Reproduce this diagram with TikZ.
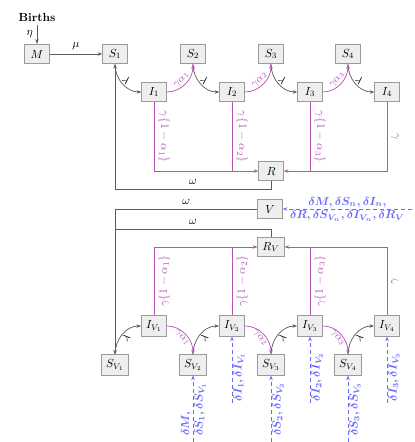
\documentclass[tikz,border=0pt]{standalone}
\usepackage{amsmath}
\usepackage{amssymb}
\usepackage{tikz}
\usetikzlibrary{arrows.meta, positioning, calc}
\definecolor{sirGray}{HTML}{5A5A5A}
\definecolor{sirPurple}{HTML}{B552B5}
\definecolor{sirBlue}{HTML}{6A6AFF}
\definecolor{sirBox}{HTML}{EEEEEE}
\definecolor{sirEdge}{HTML}{9A9A9A}

\begin{document}
\begin{tikzpicture}[
  x=0.03cm, y=-0.03cm,
  comp/.style={
    rectangle, draw=sirEdge, fill=sirBox,
    minimum width=0.74cm, minimum height=0.58cm,
    inner xsep=4pt, inner ysep=4pt,
    line width=0.6pt,
  },
  arrow/.style={-{Stealth[length=4pt]}, line width=0.6pt, color=sirGray},
  wline/.style={line width=0.6pt, color=sirGray},
  flow/.style={-{Stealth[length=4pt]}, line width=0.6pt, color=sirPurple},
  pline/.style={line width=0.6pt, color=sirPurple},
  loss/.style={-{Stealth[length=4pt]}, dashed, line width=0.6pt, color=sirBlue},
  lbl/.style={font=\boldmath, text=sirBlue, inner sep=1pt},
  rate/.style={font=\small, inner sep=1pt},
]
\useasboundingbox (0,0) rectangle (414,442);

% Unvaccinated compartments
\node[font=\bfseries] (births) at (37,17) {Births};
\node[comp] (M) at (37,54) {$M$};
\node[comp] (S1) at (115,54) {$S_1$};
\node[comp] (S2) at (193,54) {$S_2$};
\node[comp] (S3) at (271,54) {$S_3$};
\node[comp] (S4) at (348,54) {$S_4$};
\node[comp] (I1) at (154,92) {$I_1$};
\node[comp] (I2) at (232,92) {$I_2$};
\node[comp] (I3) at (310,92) {$I_3$};
\node[comp] (I4) at (387,92) {$I_4$};
\node[comp] (R) at (271,171) {$R$};

% Vaccinated compartments
\node[comp] (V) at (270,209) {$V$};
\node[comp] (RV) at (271,247) {$R_V$};
\node[comp] (IV1) at (154,326) {$I_{V_1}$};
\node[comp] (IV2) at (232,326) {$I_{V_2}$};
\node[comp] (IV3) at (310,326) {$I_{V_3}$};
\node[comp] (IV4) at (387,326) {$I_{V_4}$};
\node[comp] (SV1) at (115,365) {$S_{V_1}$};
\node[comp] (SV2) at (193,365) {$S_{V_2}$};
\node[comp] (SV3) at (271,365) {$S_{V_3}$};
\node[comp] (SV4) at (348,365) {$S_{V_4}$};

% Births and maternal immunity
\draw[arrow] (births) -- node[left, text=black] {$\eta$} (M);
\draw[arrow] (M) -- node[above, text=black] {$\mu$} (S1);

% Infection -- unvaccinated
\draw[arrow] (S1.south) to[out=-90, in=180] node[rate, sloped, above, text=black] {$\lambda$} (I1.west);
\draw[arrow] (S2.south) to[out=-90, in=180] node[rate, sloped, above, text=black] {$\lambda$} (I2.west);
\draw[arrow] (S3.south) to[out=-90, in=180] node[rate, sloped, above, text=black] {$\lambda$} (I3.west);
\draw[arrow] (S4.south) to[out=-90, in=180] node[rate, sloped, above, text=black] {$\lambda$} (I4.west);
\draw[flow] (I1.east) to[out=0, in=-90] node[rate, sloped, above] {$\gamma\alpha_1$} (S2.south);
\draw[flow] (I2.east) to[out=0, in=-90] node[rate, sloped, above] {$\gamma\alpha_2$} (S3.south);
\draw[flow] (I3.east) to[out=0, in=-90] node[rate, sloped, above] {$\gamma\alpha_3$} (S4.south);

% Recovery -- unvaccinated
\draw[flow] (I1.south) |- node[pos=0.25, rotate=-90, anchor=south] {$\gamma\{1-\alpha_1\}$} (R.west);
\draw[pline] (I2.south) -- node[rotate=-90, anchor=south] {$\gamma\{1-\alpha_2\}$} (I2.south |- R.west);
\draw[pline] (I3.south) -- node[rotate=-90, anchor=south] {$\gamma\{1-\alpha_3\}$} (I3.south |- R.east);
\draw[flow] (I4.south) |- node[pos=0.25, rotate=-90, anchor=south] {$\gamma$} (R.east);

% Waning immunity
\coordinate (wR) at (115,189);
\coordinate (wRV) at (115,229);
\draw[arrow] (R.south) |- node[pos=0.75, above, text=black] {$\omega$} (wR) -- (S1.south);
\draw[arrow] (V.west) -| node[pos=0.25, above, text=black] {$\omega$} (SV1.north);
\draw[wline] (RV.north) |- node[pos=0.75, above, text=black] {$\omega$} (wRV);

% Infection -- vaccinated
\draw[arrow] (SV1.north) to[out=90, in=180] node[rate, sloped, below, text=black] {$\lambda$} (IV1.west);
\draw[arrow] (SV2.north) to[out=90, in=180] node[rate, sloped, below, text=black] {$\lambda$} (IV2.west);
\draw[arrow] (SV3.north) to[out=90, in=180] node[rate, sloped, below, text=black] {$\lambda$} (IV3.west);
\draw[arrow] (SV4.north) to[out=90, in=180] node[rate, sloped, below, text=black] {$\lambda$} (IV4.west);
\draw[flow] (IV1.east) to[out=0, in=90] node[rate, sloped, below] {$\gamma\alpha_1$} (SV2.north);
\draw[flow] (IV2.east) to[out=0, in=90] node[rate, sloped, below] {$\gamma\alpha_2$} (SV3.north);
\draw[flow] (IV3.east) to[out=0, in=90] node[rate, sloped, below] {$\gamma\alpha_3$} (SV4.north);

% Recovery -- vaccinated
\draw[flow] (IV1.north) |- node[pos=0.25, rotate=90, anchor=north] {$\gamma\{1-\alpha_1\}$} (RV.west);
\draw[pline] (IV2.north) -- node[rotate=90, anchor=north] {$\gamma\{1-\alpha_2\}$} (IV2.north |- RV.west);
\draw[pline] (IV3.north) -- node[rotate=90, anchor=north] {$\gamma\{1-\alpha_3\}$} (IV3.north |- RV.east);
\draw[flow] (IV4.north) |- node[pos=0.25, rotate=90, anchor=north] {$\gamma$} (RV.east);

% Vaccination
\coordinate (dV) at (412,209);
\draw[loss] (dV) -- node[lbl, above] {$\delta M, \delta S_n, \delta I_n,$}
  node[lbl, below] {$\delta R, \delta S_{V_n}, \delta I_{V_n}, \delta R_V$} (V.east);

\coordinate (dSV2) at (193,442);
\coordinate (dSV3) at (271,442);
\coordinate (dSV4) at (348,442);
\coordinate (dIV2) at (232,403);
\coordinate (dIV3) at (310,403);
\coordinate (dIV4) at (387,403);
\draw[loss] (dSV2) -- node[pos=0.07, lbl, rotate=90, anchor=south west] {$\delta M,$}
  node[pos=0.07, lbl, rotate=90, anchor=north west] {$\delta S_1, \delta S_{V_1}$} (SV2.south);
\draw[loss] (dSV3) -- node[pos=0.07, lbl, rotate=90, anchor=north west] {$\delta S_2, \delta S_{V_2}$} (SV3.south);
\draw[loss] (dSV4) -- node[pos=0.07, lbl, rotate=90, anchor=north west] {$\delta S_3, \delta S_{V_3}$} (SV4.south);
\draw[loss] (dIV2) -- node[pos=0, lbl, rotate=90, anchor=north west] {$\delta I_1, \delta I_{V_1}$} (IV2.south);
\draw[loss] (dIV3) -- node[pos=0, lbl, rotate=90, anchor=north west] {$\delta I_2, \delta I_{V_2}$} (IV3.south);
\draw[loss] (dIV4) -- node[pos=0, lbl, rotate=90, anchor=north west] {$\delta I_3, \delta I_{V_3}$} (IV4.south);

\end{tikzpicture}
\end{document}
